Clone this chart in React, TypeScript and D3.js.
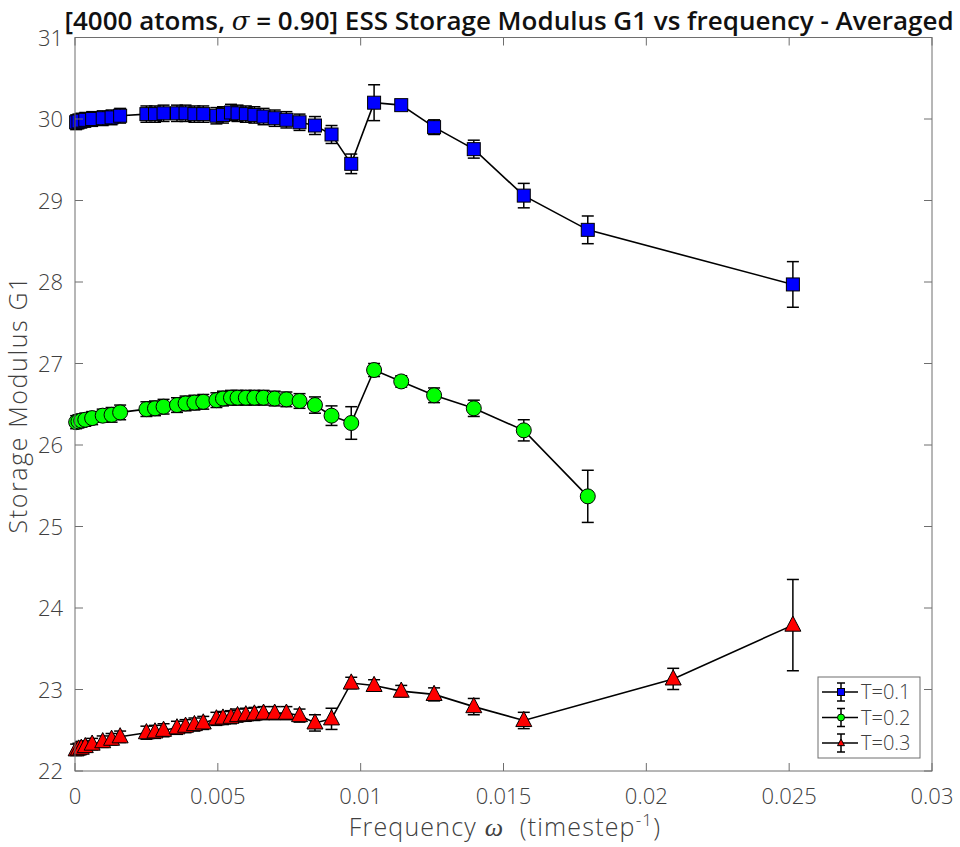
import React, { useRef, useEffect } from 'react';
import * as d3 from 'd3';

// frequencies shared by the dense part of all three series
const freqCommon = [
  0.00004, 0.00012, 0.00022, 0.00036, 0.0006, 0.00097, 0.00128, 0.00158,
  0.0025, 0.0028, 0.0031, 0.00357, 0.00387, 0.00418, 0.00449, 0.00495,
  0.00518, 0.00546, 0.00569, 0.00598, 0.00628, 0.0066, 0.00699, 0.0074,
  0.00786, 0.0084, 0.00898, 0.00967, 0.01047, 0.01142, 0.01257, 0.01396, 0.01571,
];

const freqT1 = [...freqCommon, 0.01795, 0.02513];
const valT1 = [
  29.96, 29.97, 29.98, 29.99, 30.0, 30.01, 30.02, 30.04, 30.06, 30.06, 30.07, 30.07,
  30.07, 30.06, 30.06, 30.04, 30.05, 30.08, 30.07, 30.06, 30.05, 30.03, 30.01, 29.99,
  29.96, 29.92, 29.81, 29.45, 30.2, 30.17, 29.9, 29.63, 29.06, 28.64, 27.97,
];
const errT1 = [
  0.09, 0.09, 0.09, 0.09, 0.09, 0.09, 0.09, 0.09, 0.1, 0.1, 0.1, 0.1,
  0.1, 0.1, 0.1, 0.1, 0.1, 0.1, 0.1, 0.1, 0.1, 0.1, 0.1, 0.1,
  0.1, 0.11, 0.11, 0.12, 0.22, 0.06, 0.09, 0.11, 0.15, 0.17, 0.28,
];

const freqT2 = [...freqCommon, 0.01795];
const valT2 = [
  26.28, 26.29, 26.3, 26.31, 26.33, 26.36, 26.37, 26.4, 26.44, 26.45, 26.47, 26.49,
  26.51, 26.52, 26.53, 26.55, 26.57, 26.58, 26.58, 26.58, 26.58, 26.58, 26.57, 26.56,
  26.54, 26.49, 26.36, 26.27, 26.92, 26.78, 26.61, 26.45, 26.18, 25.37,
];
const errT2 = [
  0.08, 0.08, 0.08, 0.08, 0.08, 0.08, 0.09, 0.09, 0.09, 0.09, 0.09, 0.09,
  0.09, 0.09, 0.09, 0.09, 0.09, 0.09, 0.09, 0.09, 0.09, 0.09, 0.09, 0.09,
  0.09, 0.1, 0.12, 0.2, 0.08, 0.07, 0.09, 0.1, 0.13, 0.32,
];

const freqT3 = [...freqCommon, 0.02094, 0.02513];
const valT3 = [
  22.26, 22.27, 22.28, 22.3, 22.33, 22.36, 22.39, 22.42, 22.47, 22.48, 22.5, 22.53,
  22.55, 22.57, 22.59, 22.64, 22.65, 22.66, 22.68, 22.69, 22.7, 22.71, 22.71, 22.71,
  22.68, 22.59, 22.64, 23.08, 23.05, 22.98, 22.94, 22.79, 22.62, 23.13, 23.79,
];
const errT3 = [
  0.07, 0.07, 0.07, 0.07, 0.07, 0.07, 0.07, 0.07, 0.08, 0.08, 0.08, 0.08,
  0.08, 0.08, 0.08, 0.08, 0.08, 0.08, 0.08, 0.08, 0.08, 0.08, 0.08, 0.08,
  0.08, 0.1, 0.13, 0.07, 0.07, 0.07, 0.08, 0.1, 0.1, 0.13, 0.56,
];

const seriesNames = ['T=0.1', 'T=0.2', 'T=0.3'];
const xTicks = [0, 0.005, 0.01, 0.015, 0.02, 0.025, 0.03];
const xTickLabels = ['0', '0.005', '0.01', '0.015', '0.02', '0.025', '0.03'];
const yTicks = [22, 23, 24, 25, 26, 27, 28, 29, 30, 31];

const App = () => {
  const svgRef = useRef<SVGSVGElement>(null);

  useEffect(() => {
    const width = 960;
    const height = 847;
    const box = { left: 75, right: 932, top: 37.5, bottom: 771 };
    const font = "'Open Sans', 'DejaVu Sans', sans-serif";
    const axisColor = '#6e6e6e';
    const textColor = '#404040';

    const svg = d3.select(svgRef.current);
    svg.selectAll('*').remove();
    svg.attr('width', width).attr('height', height).style('background', '#fff');

    const x = d3.scaleLinear().domain([0, 0.03]).range([box.left, box.right]);
    const y = d3.scaleLinear().domain([22, 31]).range([box.bottom, box.top]);

    const series = [
      { name: seriesNames[0], xs: freqT1, ys: valT1, es: errT1, color: '#0000ff', shape: 'square' },
      { name: seriesNames[1], xs: freqT2, ys: valT2, es: errT2, color: '#00ff00', shape: 'circle' },
      { name: seriesNames[2], xs: freqT3, ys: valT3, es: errT3, color: '#ff0000', shape: 'triangle' },
    ];

    // marker drawer shared by plot and legend
    const drawMarker = (g, shape, color, cx, cy, s) => {
      if (shape === 'square') {
        g.append('rect')
          .attr('x', cx - s / 2).attr('y', cy - s / 2)
          .attr('width', s).attr('height', s)
          .attr('fill', color).attr('stroke', '#000').attr('stroke-width', 1);
      } else if (shape === 'circle') {
        g.append('circle')
          .attr('cx', cx).attr('cy', cy).attr('r', s / 2)
          .attr('fill', color).attr('stroke', '#000').attr('stroke-width', 1);
      } else {
        const h = s * 0.95;
        g.append('path')
          .attr('d', `M${cx},${cy - h * 0.6}L${cx + s / 2},${cy + h * 0.4}L${cx - s / 2},${cy + h * 0.4}Z`)
          .attr('fill', color).attr('stroke', '#000').attr('stroke-width', 1);
      }
    };

    const capW = 6;
    const plot = svg.append('g');

    series.forEach((s) => {
      const pts = s.xs.map((fx, i) => ({ x: fx, y: s.ys[i], e: s.es[i] }));
      const line = d3.line<any>().x(d => x(d.x)).y(d => y(d.y));

      plot.append('path')
        .datum(pts)
        .attr('fill', 'none')
        .attr('stroke', '#000')
        .attr('stroke-width', 1.6)
        .attr('d', line);

      // error bars
      const eb = plot.append('g').attr('stroke', '#000').attr('stroke-width', 1.5);
      pts.forEach((d) => {
        const cx = x(d.x);
        const y0 = y(d.y - d.e);
        const y1 = y(d.y + d.e);
        eb.append('line').attr('x1', cx).attr('x2', cx).attr('y1', y0).attr('y2', y1);
        eb.append('line').attr('x1', cx - capW).attr('x2', cx + capW).attr('y1', y0).attr('y2', y0);
        eb.append('line').attr('x1', cx - capW).attr('x2', cx + capW).attr('y1', y1).attr('y2', y1);
      });

      const mk = plot.append('g');
      const size = s.shape === 'square' ? 13 : s.shape === 'circle' ? 15 : 16;
      pts.forEach((d) => drawMarker(mk, s.shape, s.color, x(d.x), y(d.y), size));
    });

    // axes box with inward ticks on all sides
    const frame = svg.append('g').attr('stroke', axisColor).attr('stroke-width', 1);
    frame.append('rect')
      .attr('x', box.left).attr('y', box.top)
      .attr('width', box.right - box.left).attr('height', box.bottom - box.top)
      .attr('fill', 'none');
    const tl = 8;
    xTicks.forEach((t) => {
      frame.append('line').attr('x1', x(t)).attr('x2', x(t)).attr('y1', box.bottom).attr('y2', box.bottom - tl);
      frame.append('line').attr('x1', x(t)).attr('x2', x(t)).attr('y1', box.top).attr('y2', box.top + tl);
    });
    yTicks.forEach((t) => {
      frame.append('line').attr('x1', box.left).attr('x2', box.left + tl).attr('y1', y(t)).attr('y2', y(t));
      frame.append('line').attr('x1', box.right).attr('x2', box.right - tl).attr('y1', y(t)).attr('y2', y(t));
    });

    // tick labels
    const labels = svg.append('g')
      .attr('font-family', font).attr('font-weight', 300)
      .attr('fill', textColor).attr('font-size', 22);
    xTicks.forEach((t, i) => {
      labels.append('text')
        .attr('x', x(t)).attr('y', box.bottom + 33)
        .attr('text-anchor', 'middle')
        .text(xTickLabels[i]);
    });
    yTicks.forEach((t) => {
      labels.append('text')
        .attr('x', box.left - 12).attr('y', y(t) + 8)
        .attr('text-anchor', 'end')
        .text(String(t));
    });

    // axis titles
    const xl = svg.append('text')
      .attr('x', 505).attr('y', 836)
      .attr('text-anchor', 'middle')
      .attr('font-family', font).attr('font-weight', 300)
      .attr('font-size', 25).attr('fill', textColor)
      .attr('letter-spacing', 1.2);
    xl.append('tspan').text('Frequency ');
    xl.append('tspan')
      .attr('font-family', "'Liberation Serif', serif").attr('font-style', 'italic')
      .attr('font-weight', 400).attr('font-size', 26).text('ω');
    xl.append('tspan').text('\u00a0\u00a0(timestep');
    xl.append('tspan').attr('font-size', 17).attr('dy', -10).text('-1');
    xl.append('tspan').attr('dy', 10).text(')');

    svg.append('text')
      .attr('transform', `translate(27,${(box.top + box.bottom) / 2}) rotate(-90)`)
      .attr('text-anchor', 'middle')
      .attr('font-family', font).attr('font-weight', 300)
      .attr('font-size', 25).attr('fill', textColor)
      .attr('letter-spacing', 1.6)
      .text('Storage Modulus G1');

    // title
    const title = svg.append('text')
      .attr('x', 509).attr('y', 30)
      .attr('text-anchor', 'middle')
      .attr('font-family', font).attr('font-size', 26).attr('font-weight', 600).attr('fill', '#111');
    title.append('tspan').text('[4000 atoms, ');
    title.append('tspan').attr('font-family', 'DejaVu Serif, serif').attr('font-style', 'italic').attr('font-weight', 400).text('σ');
    title.append('tspan').text(' = 0.90] ESS Storage Modulus G1 vs frequency - Averaged');

    // legend
    const lg = svg.append('g');
    lg.append('rect')
      .attr('x', 818).attr('y', 677).attr('width', 102).attr('height', 81)
      .attr('fill', '#fff').attr('stroke', axisColor).attr('stroke-width', 1);
    series.forEach((s, i) => {
      const ry = 692 + i * 25.5;
      lg.append('line').attr('x1', 822).attr('x2', 858).attr('y1', ry).attr('y2', ry)
        .attr('stroke', '#000').attr('stroke-width', 1.5);
      lg.append('line').attr('x1', 841).attr('x2', 841).attr('y1', ry - 9).attr('y2', ry + 9)
        .attr('stroke', '#000').attr('stroke-width', 1.5);
      lg.append('line').attr('x1', 837).attr('x2', 845).attr('y1', ry - 9).attr('y2', ry - 9)
        .attr('stroke', '#000').attr('stroke-width', 1.5);
      lg.append('line').attr('x1', 837).attr('x2', 845).attr('y1', ry + 9).attr('y2', ry + 9)
        .attr('stroke', '#000').attr('stroke-width', 1.5);
      drawMarker(lg, s.shape, s.color, 841, ry, 7);
      lg.append('text')
        .attr('x', 861).attr('y', ry + 7)
        .attr('font-family', font).attr('font-weight', 300)
        .attr('font-size', 20).attr('fill', textColor)
        .text(s.name);
    });
  }, []);

  return (
    <div style={{ position: 'absolute', left: 0, top: 0 }}>
      <svg ref={svgRef} style={{ display: 'block' }}></svg>
    </div>
  );
};

export default App;
